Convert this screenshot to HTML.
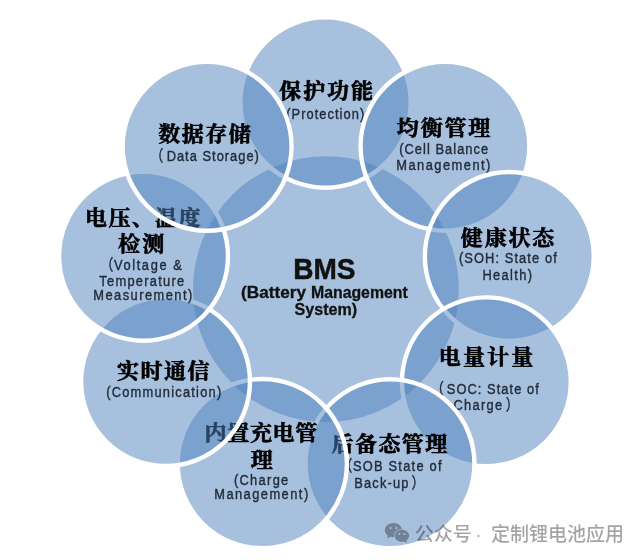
<!DOCTYPE html>
<html lang="zh-CN">
<head>
<meta charset="utf-8">
<title>BMS (Battery Management System)</title>
<style>
html,body{margin:0;padding:0;background:#fff;}
body{width:644px;height:560px;overflow:hidden;position:relative;}
svg{display:block;position:absolute;left:0;top:0;}
.c{fill:#4F81BD;fill-opacity:.5;stroke:#fff;stroke-width:4.4;filter:blur(.7px);}
text{filter:blur(.6px);}
.t{font-family:'Liberation Serif', 'Noto Serif CJK SC', serif;font-weight:700;font-size:21px;fill:#000;stroke:#000;stroke-width:.6px;text-anchor:middle;}
.s{font-family:'Liberation Sans', 'Noto Sans CJK SC', sans-serif;font-weight:400;font-size:15.5px;fill:#222c3a;stroke:#222c3a;stroke-width:.4px;}
.b1{font-family:'Liberation Sans', 'Noto Sans CJK SC', sans-serif;font-weight:700;font-size:29.5px;fill:#111;stroke:#111;stroke-width:.5px;}
.b2{font-family:'Liberation Sans', 'Noto Sans CJK SC', sans-serif;font-weight:700;font-size:16px;fill:#111;stroke:#111;stroke-width:.3px;}
.wm{font-family:'Liberation Sans', 'Noto Sans CJK SC', sans-serif;font-weight:500;font-size:19px;fill:#000;fill-opacity:.36;}
</style>
</head>
<body>
<svg width="644" height="560" viewBox="0 0 644 560">
<g>
<circle class="c" cx="325.9" cy="289.2" r="135.1"/>
<text id="c_0" class="b1" x="293.2" y="279.3" textLength="62.3" lengthAdjust="spacingAndGlyphs">BMS</text>
<text id="c_1" class="b2" y="298.1"><tspan id="c_1_0" x="241.1" textLength="69.8" lengthAdjust="spacingAndGlyphs">(Battery </tspan><tspan id="c_1_1" x="311.0" textLength="96.7" lengthAdjust="spacingAndGlyphs">Management</tspan></text>
<text id="c_2" class="b2" x="294.6" y="315.2" textLength="62.5" lengthAdjust="spacingAndGlyphs">System)</text>
</g>
<g>
<circle class="c" cx="325.54" cy="102.60" r="85.20"/>
<text id="k0_0" class="t" transform="scale(1.05,1)" x="310.6" y="98.5" textLength="89.4" lengthAdjust="spacing">保护功能</text>
<text id="k0_1" class="s" transform="scale(0.83,1)" x="344.9" y="118.7" textLength="93.9" lengthAdjust="spacing">(Protection)</text>
</g>
<g>
<circle class="c" cx="444.93" cy="146.28" r="84.37"/>
<text id="k1_0" class="t" transform="scale(1.05,1)" x="422.5" y="135.1" textLength="89.1" lengthAdjust="spacing">均衡管理</text>
<text id="k1_1" class="s" transform="scale(0.83,1)" x="481.0" y="154.3" textLength="107.1" lengthAdjust="spacing">(Cell Balance</text>
<text id="k1_2" class="s" transform="scale(0.83,1)" x="477.5" y="170.0" textLength="113.3" lengthAdjust="spacing">Management)</text>
</g>
<g>
<circle class="c" cx="509.30" cy="256.39" r="84.45"/>
<text id="k2_0" class="t" transform="scale(1.05,1)" x="483.4" y="245.5" textLength="89.1" lengthAdjust="spacing">健康状态</text>
<text id="k2_1" class="s" transform="scale(0.83,1)" x="552.9" y="263.5" textLength="117.9" lengthAdjust="spacing">(SOH: State of</text>
<text id="k2_2" class="s" transform="scale(0.83,1)" x="581.3" y="280.0" textLength="59.7" lengthAdjust="spacing">Health)</text>
</g>
<g>
<circle class="c" cx="486.36" cy="381.78" r="84.45"/>
<text id="k3_0" class="t" transform="scale(1.05,1)" x="462.9" y="363.8" textLength="90.1" lengthAdjust="spacing">电量计量</text>
<text id="k3_1" class="s" transform="scale(0.83,1)" y="394.1"><tspan id="k3_1_0" x="519.4">（</tspan><tspan id="k3_1_1" x="538.3" textLength="110.8" lengthAdjust="spacing">SOC: State of</tspan></text>
<text id="k3_2" class="s" transform="scale(0.83,1)" y="410.5"><tspan id="k3_2_0" x="546.4" textLength="58.5" lengthAdjust="spacing">Charge</tspan><tspan id="k3_2_1" x="609.2">）</tspan></text>
</g>
<g>
<circle class="c" cx="389.97" cy="463.75" r="84.47"/>
<text id="k4_0" class="t" transform="scale(1.05,1)" x="370.9" y="450.6" textLength="110.2" lengthAdjust="spacing">后备态管理</text>
<text id="k4_1" class="s" transform="scale(0.83,1)" y="470.8"><tspan id="k4_1_0" x="409.2">（</tspan><tspan id="k4_1_1" x="425.2" textLength="106.8" lengthAdjust="spacing">SOB State of</tspan></text>
<text id="k4_2" class="s" transform="scale(0.83,1)" y="487.6"><tspan id="k4_2_0" x="426.7" textLength="65.5" lengthAdjust="spacing">Back-up</tspan><tspan id="k4_2_1" x="495.7">）</tspan></text>
</g>
<g>
<circle class="c" cx="262.31" cy="463.66" r="84.60"/>
<text id="k5_0" class="t" transform="scale(1.05,1)" x="248.5" y="440.4" textLength="107.4" lengthAdjust="spacing">内置充电管</text>
<text id="k5_1" class="t" transform="scale(1.05,1)" x="249.2" y="467.0">理</text>
<text id="k5_2" class="s" transform="scale(0.83,1)" x="281.8" y="485.0" textLength="65.5" lengthAdjust="spacing">(Charge</text>
<text id="k5_3" class="s" transform="scale(0.83,1)" x="258.1" y="499.5" textLength="113.2" lengthAdjust="spacing">Management)</text>
</g>
<g>
<circle class="c" cx="165.54" cy="381.58" r="84.45"/>
<text id="k6_0" class="t" transform="scale(1.05,1)" x="155.5" y="378.0" textLength="88.2" lengthAdjust="spacing">实时通信</text>
<text id="k6_1" class="s" transform="scale(0.83,1)" x="128.0" y="396.8" textLength="138.5" lengthAdjust="spacing">(Communication)</text>
</g>
<g>
<circle class="c" cx="143.53" cy="256.24" r="84.45"/>
<text id="k7_0" class="t" transform="scale(1.05,1)" x="136.0" y="225.4" textLength="109.9" lengthAdjust="spacing">电压、温度</text>
<text id="k7_1" class="t" transform="scale(1.05,1)" x="134.5" y="251.3" textLength="44.0" lengthAdjust="spacing">检测</text>
<text id="k7_2" class="s" transform="scale(0.83,1)" y="270.3"><tspan id="k7_2_0" x="121.0">（</tspan><tspan id="k7_2_1" x="137.3" textLength="81.9" lengthAdjust="spacing">Voltage &amp;</tspan></text>
<text id="k7_3" class="s" transform="scale(0.83,1)" x="119.7" y="285.6" textLength="102.1" lengthAdjust="spacing">Temperature</text>
<text id="k7_4" class="s" transform="scale(0.83,1)" x="112.3" y="300.0" textLength="119.4" lengthAdjust="spacing">Measurement)</text>
</g>
<g>
<circle class="c" cx="207.10" cy="146.31" r="84.45"/>
<text id="k8_0" class="t" transform="scale(1.05,1)" x="194.8" y="141.1" textLength="88.1" lengthAdjust="spacing">数据存储</text>
<text id="k8_1" class="s" transform="scale(0.83,1)" y="160.9"><tspan id="k8_1_0" x="181.2">（</tspan><tspan id="k8_1_1" x="200.8" textLength="111.1" lengthAdjust="spacing">Data Storage)</tspan></text>
</g>
<g>
<mask id="wx" maskUnits="userSpaceOnUse" x="380" y="518" width="36" height="30">
<path fill="#fff" d="M393.4 522.9c-4.75 0-8.6 3.22-8.6 7.2 0 2.2 1.2 4.2 3.1 5.5l-.9 2.9 3.3-1.7c1 .3 2 .5 3.1.5 4.75 0 8.6-3.22 8.6-7.2s-3.85-7.2-8.6-7.2z"/>
<ellipse fill="#000" cx="401.9" cy="535.8" rx="8" ry="6.9"/>
<path fill="#fff" d="M401.9 529.7c3.98 0 7.2 2.73 7.2 6.1 0 1.85-1 3.5-2.6 4.6l.7 2.5-2.8-1.4c-.8.25-1.65.4-2.5.4-3.98 0-7.2-2.73-7.2-6.1s3.22-6.1 7.2-6.1z"/>
<circle fill="#000" cx="390.7" cy="528.1" r="1.15"/>
<circle fill="#000" cx="396.5" cy="528.1" r="1.15"/>
<circle fill="#000" cx="399.4" cy="534" r="1"/>
<circle fill="#000" cx="404.3" cy="534" r="1"/>
</mask>
<rect x="380" y="518" width="36" height="30" fill="#000" fill-opacity=".32" mask="url(#wx)"/>
<text id="wm" class="wm" y="540.6"><tspan id="wm_0" x="414.8">公众号 </tspan><tspan id="wm_1" x="475.2">· </tspan><tspan id="wm_2" x="490.9">定制锂电池应用</tspan></text>
</g>
</svg>
</body>
</html>
